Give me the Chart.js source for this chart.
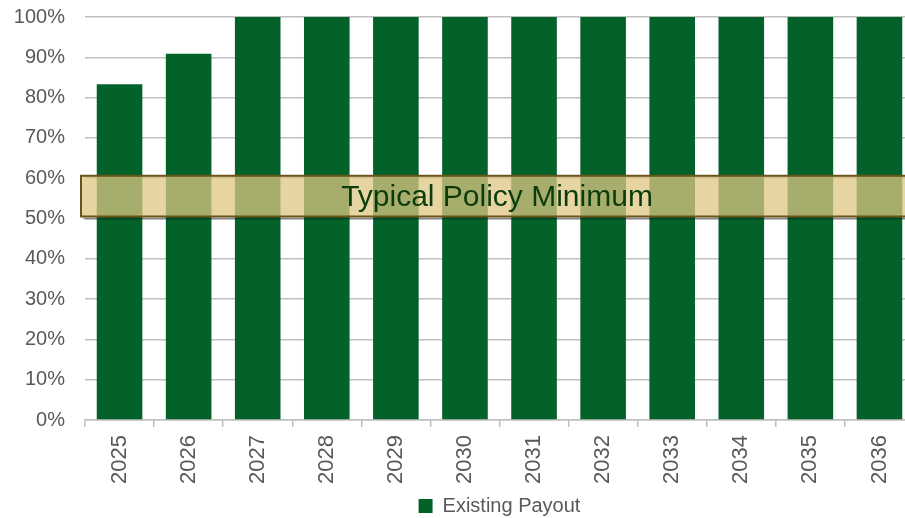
<!DOCTYPE html>
<html>
<head>
<meta charset="utf-8">
<script src="https://cdn.jsdelivr.net/npm/chart.js@4"></script>
<style>
  html, body { margin: 0; padding: 0; background: #fff; overflow: hidden; }
  #wrap { width: 914px; height: 541px; position: relative; margin-top: -15px; }
</style>
</head>
<body>
<div id="wrap"><canvas id="c"></canvas></div>
<script>
// Payout ratio by year
const years = ['2025','2026','2027','2028','2029','2030','2031','2032','2033','2034','2035','2036'];
const existingPayout = [83.3, 90.9, 100, 100, 100, 100, 100, 100, 100, 100, 100, 100];
const yTicks = [0, 10, 20, 30, 40, 50, 60, 70, 80, 90, 100];
// Range considered a typical policy minimum (percent)
const policyBand = [50.5, 60.6];
const policyLabel = 'Typical Policy Minimum';

const GREEN = '#03622A';
const TEXT = '#595959';
const FONT = '"Liberation Sans", Arial, sans-serif';

const bandPlugin = {
  id: 'policyBand',
  afterDatasetsDraw(chart) {
    const { ctx, chartArea, scales } = chart;
    const yTop = scales.y.getPixelForValue(policyBand[1]);
    const yBot = scales.y.getPixelForValue(policyBand[0]);
    const x0 = chartArea.left - 4;
    const x1 = chartArea.right + 4;
    ctx.save();
    // soft shadow line under the box
    ctx.fillStyle = 'rgba(0,0,0,0.3)';
    ctx.fillRect(x0 + 2, yBot + 1, x1 - x0, 2);
    ctx.fillStyle = 'rgba(222, 199, 132, 0.75)';
    ctx.fillRect(x0, yTop, x1 - x0, yBot - yTop);
    ctx.strokeStyle = '#6B5419';
    ctx.lineWidth = 2;
    ctx.strokeRect(x0, yTop, x1 - x0, yBot - yTop);
    // label
    ctx.fillStyle = '#0B3D0B';
    ctx.font = '30px ' + FONT;
    ctx.textAlign = 'center';
    ctx.textBaseline = 'middle';
    ctx.fillText(policyLabel, 497, (yTop + yBot) / 2 + 2);
    ctx.restore();
  }
};

new Chart(document.getElementById('c'), {
  type: 'bar',
  data: {
    labels: years,
    datasets: [{
      label: 'Existing Payout',
      data: existingPayout,
      backgroundColor: GREEN,
      borderWidth: 0,
      barPercentage: 0.66,
      categoryPercentage: 1.0
    }]
  },
  options: {
    responsive: true,
    maintainAspectRatio: false,
    animation: false,
    layout: { padding: { top: 2, right: 0, left: 0, bottom: 0 } },
    plugins: {
      legend: {
        position: 'bottom',
        fullSize: false,
        labels: {
          color: TEXT,
          font: { family: FONT, size: 20 },
          boxWidth: 14,
          boxHeight: 14,
          padding: 6
        }
      },
      tooltip: { enabled: false }
    },
    scales: {
      x: {
        grid: {
          display: true,
          offset: true,
          drawOnChartArea: false,
          drawTicks: true,
          tickLength: 7,
          color: '#BFBFBF',
          lineWidth: 1.5
        },
        border: { display: true, color: '#BFBFBF', width: 1.5 },
        ticks: {
          color: TEXT,
          font: { family: FONT, size: 22 },
          minRotation: 90,
          maxRotation: 90,
          padding: 8
        },
        afterFit(scale) { scale.height = 70; }
      },
      y: {
        min: 0,
        max: 100,
        afterBuildTicks(scale) { scale.ticks = yTicks.map(v => ({ value: v })); },
        grid: {
          color: '#BFBFBF',
          lineWidth: 1.5,
          drawTicks: false
        },
        border: { display: false },
        ticks: {
          color: TEXT,
          font: { family: FONT, size: 20 },
          padding: 20,
          callback: v => v + '%'
        },
        afterFit(scale) { scale.width = 85; }
      }
    }
  },
  plugins: [bandPlugin]
});
</script>
</body>
</html>
